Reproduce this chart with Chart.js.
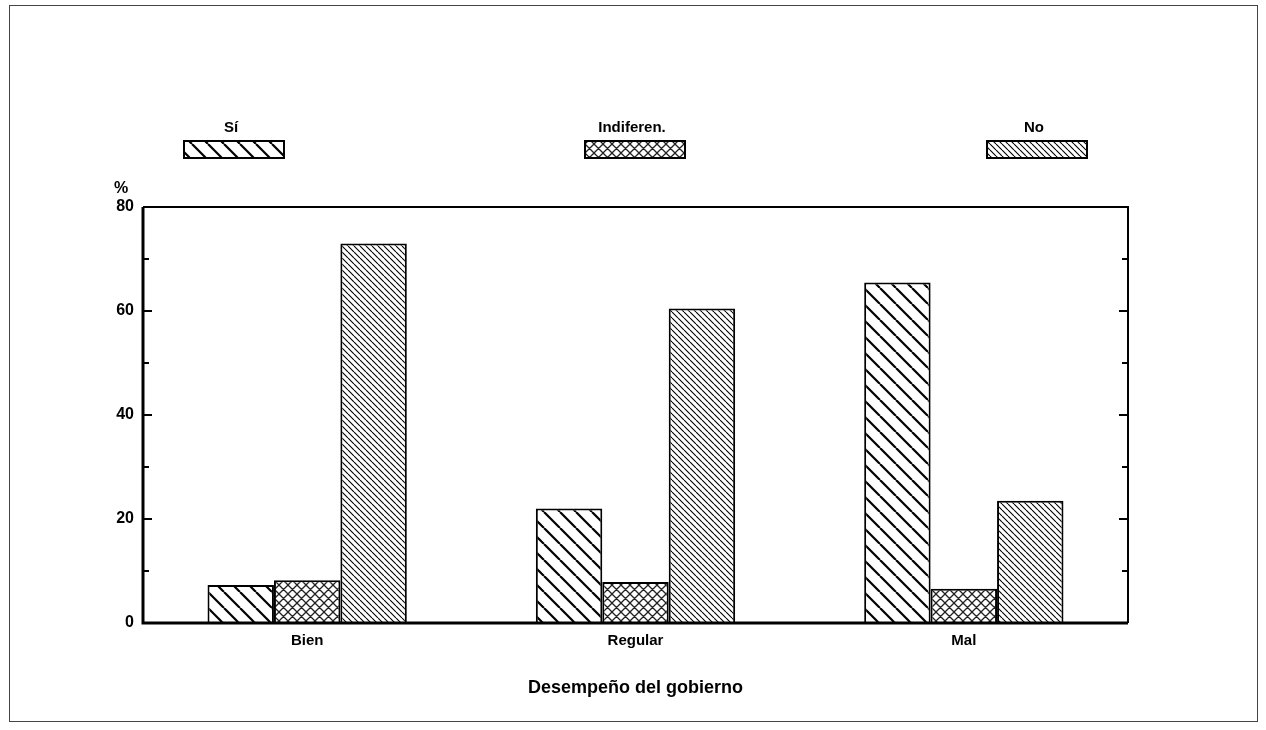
<!DOCTYPE html>
<html>
<head>
<meta charset="utf-8">
<script src="https://cdn.jsdelivr.net/npm/chart.js@4.4.1/dist/chart.umd.min.js"></script>
<style>
  body { margin: 0; background: #fff; }
  #wrap { width: 1266px; height: 730px; }
</style>
</head>
<body>
<div id="wrap"><canvas id="grafico" width="1266" height="730"></canvas></div>
<script>
// datos
const categorias = ['Bien', 'Regular', 'Mal'];
const series = ['Sí', 'Indiferen.', 'No'];
const valoresSi = [7.3, 22.0, 65.5];
const valoresIndif = [8.2, 7.9, 6.6];
const valoresNo = [73.0, 60.5, 23.5];
const ticksY = [0, 20, 40, 60, 80];
const ticksMenores = [10, 30, 50, 70];

const FUENTE = '"Liberation Sans", Arial, sans-serif';

// patrones de rayado
function patronRayas(tam, grosor) {
    const c = document.createElement('canvas');
    c.width = tam; c.height = tam;
    const g = c.getContext('2d');
    g.fillStyle = '#fff';
    g.fillRect(0, 0, tam, tam);
    g.strokeStyle = '#000';
    g.lineWidth = grosor;
    g.beginPath();
    [-tam, 0, tam].forEach(k => {
        g.moveTo(k, 0);
        g.lineTo(k + tam, tam);
    });
    g.stroke();
    return g.createPattern(c, 'repeat');
}

function patronCruzado(tam, grosor) {
    const c = document.createElement('canvas');
    c.width = tam; c.height = tam;
    const g = c.getContext('2d');
    g.fillStyle = '#fff';
    g.fillRect(0, 0, tam, tam);
    g.strokeStyle = '#222';
    g.lineWidth = grosor;
    g.beginPath();
    [-tam, 0, tam].forEach(k => {
        g.moveTo(k, 0);
        g.lineTo(k + tam, tam);
        g.moveTo(k + tam, 0);
        g.lineTo(k, tam);
    });
    g.stroke();
    return g.createPattern(c, 'repeat');
}

const rellenos = [patronRayas(16, 2.2), patronCruzado(9, 1.3), patronRayas(6, 1.1)];

// leyenda, marco y marcas interiores
const decoracion = {
    id: 'decoracion',
    afterDraw(chart) {
        const ctx = chart.ctx;
        const area = chart.chartArea;
        const y = chart.scales.y;
        ctx.save();

        // marco exterior
        ctx.strokeStyle = '#444';
        ctx.lineWidth = 1;
        ctx.strokeRect(9.5, 5.5, 1248, 716);

        // borde del area
        ctx.strokeStyle = '#000';
        ctx.lineWidth = 2;
        ctx.beginPath();
        ctx.moveTo(area.left, area.top);
        ctx.lineTo(area.right, area.top);
        ctx.lineTo(area.right, area.bottom);
        ctx.stroke();
        ctx.lineWidth = 3;
        ctx.beginPath();
        ctx.moveTo(area.left, area.top);
        ctx.lineTo(area.left, area.bottom);
        ctx.lineTo(area.right, area.bottom);
        ctx.stroke();

        // marcas hacia dentro
        ctx.lineWidth = 2;
        ticksY.concat(ticksMenores).forEach(v => {
            const py = y.getPixelForValue(v);
            const largo = ticksY.includes(v) ? 9 : 6;
            ctx.beginPath();
            ctx.moveTo(area.left, py);
            ctx.lineTo(area.left + largo, py);
            ctx.moveTo(area.right, py);
            ctx.lineTo(area.right - largo, py);
            ctx.stroke();
        });

        // simbolo %
        ctx.fillStyle = '#000';
        ctx.font = 'bold 16px ' + FUENTE;
        ctx.textAlign = 'center';
        ctx.textBaseline = 'middle';
        ctx.fillText('%', 121, 189);

        // leyenda arriba
        const posX = [234, 635, 1037];
        series.forEach((nombre, i) => {
            const cx = posX[i];
            ctx.fillStyle = '#000';
            ctx.font = 'bold 15px ' + FUENTE;
            ctx.fillText(nombre, cx - 3, 128);
            ctx.fillStyle = rellenos[i];
            ctx.fillRect(cx - 50, 141, 100, 17);
            ctx.lineWidth = 2;
            ctx.strokeRect(cx - 50, 141, 100, 17);
        });
        ctx.restore();
    }
};

new Chart(document.getElementById('grafico'), {
    type: 'bar',
    data: {
        labels: categorias,
        datasets: [
            { label: series[0], data: valoresSi, backgroundColor: rellenos[0] },
            { label: series[1], data: valoresIndif, backgroundColor: rellenos[1] },
            { label: series[2], data: valoresNo, backgroundColor: rellenos[2] }
        ].map(d => Object.assign(d, { borderColor: '#000', borderWidth: 2, barPercentage: 1, categoryPercentage: 0.607 }))
    },
    options: {
        responsive: false,
        animation: false,
        layout: { padding: { top: 207, right: 138, left: 0, bottom: 0 } },
        plugins: { legend: { display: false }, tooltip: { enabled: false } },
        scales: {
            x: {
                grid: { display: false, drawTicks: false },
                border: { display: false },
                ticks: { color: '#000', padding: 9, font: { family: FUENTE, size: 15, weight: 'bold' } },
                title: {
                    display: true, text: 'Desempeño del gobierno', color: '#000',
                    font: { family: FUENTE, size: 18, weight: 'bold' },
                    padding: { top: 0, bottom: 31 }
                },
                afterFit: s => { s.height = 107; }
            },
            y: {
                min: 0, max: 80,
                afterBuildTicks: s => { s.ticks = ticksY.map(v => ({ value: v })); },
                grid: { display: false, drawTicks: false },
                border: { display: false },
                ticks: { color: '#000', padding: 9, font: { family: FUENTE, size: 16, weight: 'bold' } },
                afterFit: s => { s.width = 143; }
            }
        }
    },
    plugins: [decoracion]
});
</script>
</body>
</html>
